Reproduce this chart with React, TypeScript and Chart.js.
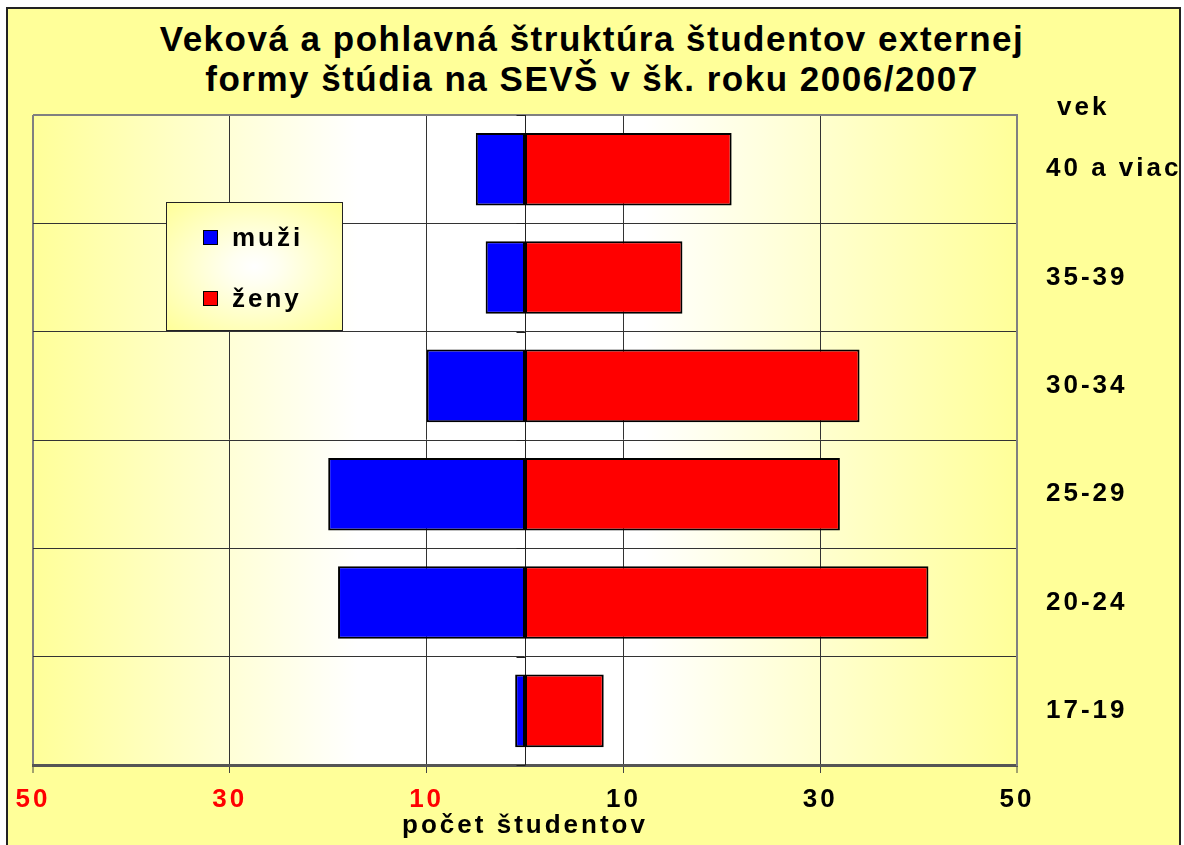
import React, { useEffect, useRef } from 'react';
import { Chart, registerables } from 'chart.js';

Chart.register(...registerables);

const categories = ['40 a viac', '35-39', '30-34', '25-29', '20-24', '17-19'];
const muzi = [5, 4, 10, 20, 19, 1];
const zeny = [21, 16, 34, 32, 41, 8];
const xTicks = [-50, -30, -10, 10, 30, 50];
const titleLines = [
  'Veková a pohlavná štruktúra študentov externej',
  'formy štúdia na SEVŠ v šk. roku 2006/2007',
];
const axisTitle = 'počet študentov';
const categoryAxisTitle = 'vek';
const seriesNames = ['muži', 'ženy'];
const seriesColors = ['#0000FF', '#FF0000'];

const FONT = "Arial, 'Liberation Sans', sans-serif";

const bgPlugin = {
  id: 'bgPlugin',
  beforeDraw(chart: any) {
    const { ctx, chartArea: a } = chart;
    (ctx as any).letterSpacing = '3px';
    ctx.save();
    const g = ctx.createLinearGradient(a.left, 0, a.right, 0);
    g.addColorStop(0, '#FFFF99');
    g.addColorStop(0.33, '#FFFFFF');
    g.addColorStop(0.62, '#FFFFFF');
    g.addColorStop(1, '#FFFF99');
    ctx.fillStyle = g;
    ctx.fillRect(a.left, a.top, a.right - a.left, a.bottom - a.top);
    ctx.restore();
  },
  beforeDatasetsDraw(chart: any) {
    const { ctx, chartArea: a, scales } = chart;
    const x0 = Math.round(scales.x.getPixelForValue(0)) + 0.5;
    ctx.save();
    ctx.strokeStyle = '#222';
    ctx.lineWidth = 1;
    ctx.beginPath();
    ctx.moveTo(x0, a.top);
    ctx.lineTo(x0, a.bottom);
    for (let i = 0; i <= categories.length; i++) {
      const y = Math.round(scales.y.getPixelForValue(i - 0.5)) + 0.5;
      ctx.moveTo(x0 - 9, y);
      ctx.lineTo(x0, y);
    }
    ctx.stroke();
    ctx.restore();
  },
};

export default function App() {
  const ref = useRef<HTMLCanvasElement>(null);

  useEffect(() => {
    const canvas = ref.current;
    if (!canvas) return;
    const chart = new Chart(canvas, {
      type: 'bar',
      data: {
        labels: categories,
        datasets: [
          {
            label: seriesNames[0],
            data: muzi.map((v) => -v),
            backgroundColor: seriesColors[0],
            borderColor: '#000000',
            borderWidth: 2,
            borderSkipped: false,
            barPercentage: 0.67,
            categoryPercentage: 1,
          },
          {
            label: seriesNames[1],
            data: zeny,
            backgroundColor: seriesColors[1],
            borderColor: '#000000',
            borderWidth: 2,
            borderSkipped: false,
            barPercentage: 0.67,
            categoryPercentage: 1,
          },
        ],
      },
      options: {
        indexAxis: 'y',
        responsive: false,
        animation: false,
        layout: { padding: { left: 33, right: 0, top: 115, bottom: 6 } },
        plugins: {
          legend: { display: false },
          title: { display: false },
          tooltip: { enabled: false },
        },
        scales: {
          x: {
            type: 'linear',
            min: -50,
            max: 50,
            stacked: true,
            position: 'bottom',
            afterBuildTicks: (s: any) => {
              s.ticks = xTicks.map((v) => ({ value: v }));
            },
            ticks: {
              autoSkip: false,
              maxRotation: 0,
              padding: 14,
              callback: (v: any) => String(Math.abs(Number(v))),
              color: (c: any) => (c.tick && c.tick.value < 0 ? '#FF0000' : '#000000'),
              font: { family: FONT, size: 26, weight: 'bold', lineHeight: 1 },
            },
            grid: {
              color: (c: any) => (c.tick && Math.abs(c.tick.value) === 50 ? '#808080' : '#333333'),
              lineWidth: (c: any) => (c.tick && Math.abs(c.tick.value) === 50 ? 2 : 1),
              drawTicks: true,
              tickLength: 8,
              tickColor: '#444444',
              tickWidth: 1,
            },
            border: { display: true, color: '#555555', width: 3 },
            title: {
              display: true,
              text: axisTitle,
              color: '#000000',
              font: { family: FONT, size: 26, weight: 'bold', lineHeight: 1 },
              padding: { top: -14, bottom: 0 },
            },
          },
          y: {
            type: 'category',
            position: 'right',
            stacked: true,
            offset: true,
            afterFit: (s: any) => {
              s.width = 167;
            },
            ticks: {
              color: '#000000',
              padding: 29,
              font: { family: FONT, size: 26, weight: 'bold', lineHeight: 1 },
            },
            grid: {
              offset: true,
              drawTicks: false,
              color: (c: any) => (c.index === 0 ? '#808080' : '#333333'),
              lineWidth: (c: any) => (c.index === 0 ? 2 : 1),
            },
            border: { display: true, color: '#808080', width: 2 },
          },
        },
      },
      plugins: [bgPlugin],
    } as any);
    return () => chart.destroy();
  }, []);

  const textStyle: React.CSSProperties = {
    fontFamily: FONT,
    fontWeight: 'bold',
    color: '#000',
  };

  return (
    <div style={{ position: 'fixed', left: 0, top: 0, width: 1184, height: 845, background: '#FFFFFF', overflow: 'hidden' }}>
      <div
        style={{
          position: 'absolute',
          left: 6,
          top: 7,
          width: 1171,
          height: 860,
          background: '#FFFF99',
          borderLeft: '2px solid #222',
          borderTop: '2px solid #222',
          borderRight: '2px solid #222',
        }}
      />
      <div
        style={{
          ...textStyle,
          position: 'absolute',
          left: 0,
          top: 19,
          width: 1184,
          textAlign: 'center',
          fontSize: 35,
          lineHeight: '40px',
          letterSpacing: '1.5px',
        }}
      >
        {titleLines.map((l, i) => (
          <div key={i}>{l}</div>
        ))}
      </div>
      <canvas ref={ref} width={1184} height={845} style={{ position: 'absolute', left: 0, top: 0, width: 1184, height: 845 }} />
      <div
        style={{
          ...textStyle,
          position: 'absolute',
          left: 1057,
          top: 91,
          fontSize: 26,
          lineHeight: '30px',
          letterSpacing: '3px',
        }}
      >
        {categoryAxisTitle}
      </div>
      <div
        style={{
          position: 'absolute',
          left: 166,
          top: 202,
          width: 175,
          height: 127,
          border: '1px solid #222',
          background: 'radial-gradient(ellipse at center, #FFFFFF 0%, #FFFFF0 20%, #FFFF99 100%)',
        }}
      >
        {seriesNames.map((n, i) => (
          <div key={n} style={{ position: 'absolute', left: 36, top: i === 0 ? 19 : 80, height: 30, display: 'flex', alignItems: 'center' }}>
            <div style={{ width: 13, height: 13, background: seriesColors[i], border: '1px solid #000', marginRight: 14 }} />
            <span style={{ ...textStyle, fontSize: 26, lineHeight: '30px', letterSpacing: '3px' }}>{n}</span>
          </div>
        ))}
      </div>
    </div>
  );
}
